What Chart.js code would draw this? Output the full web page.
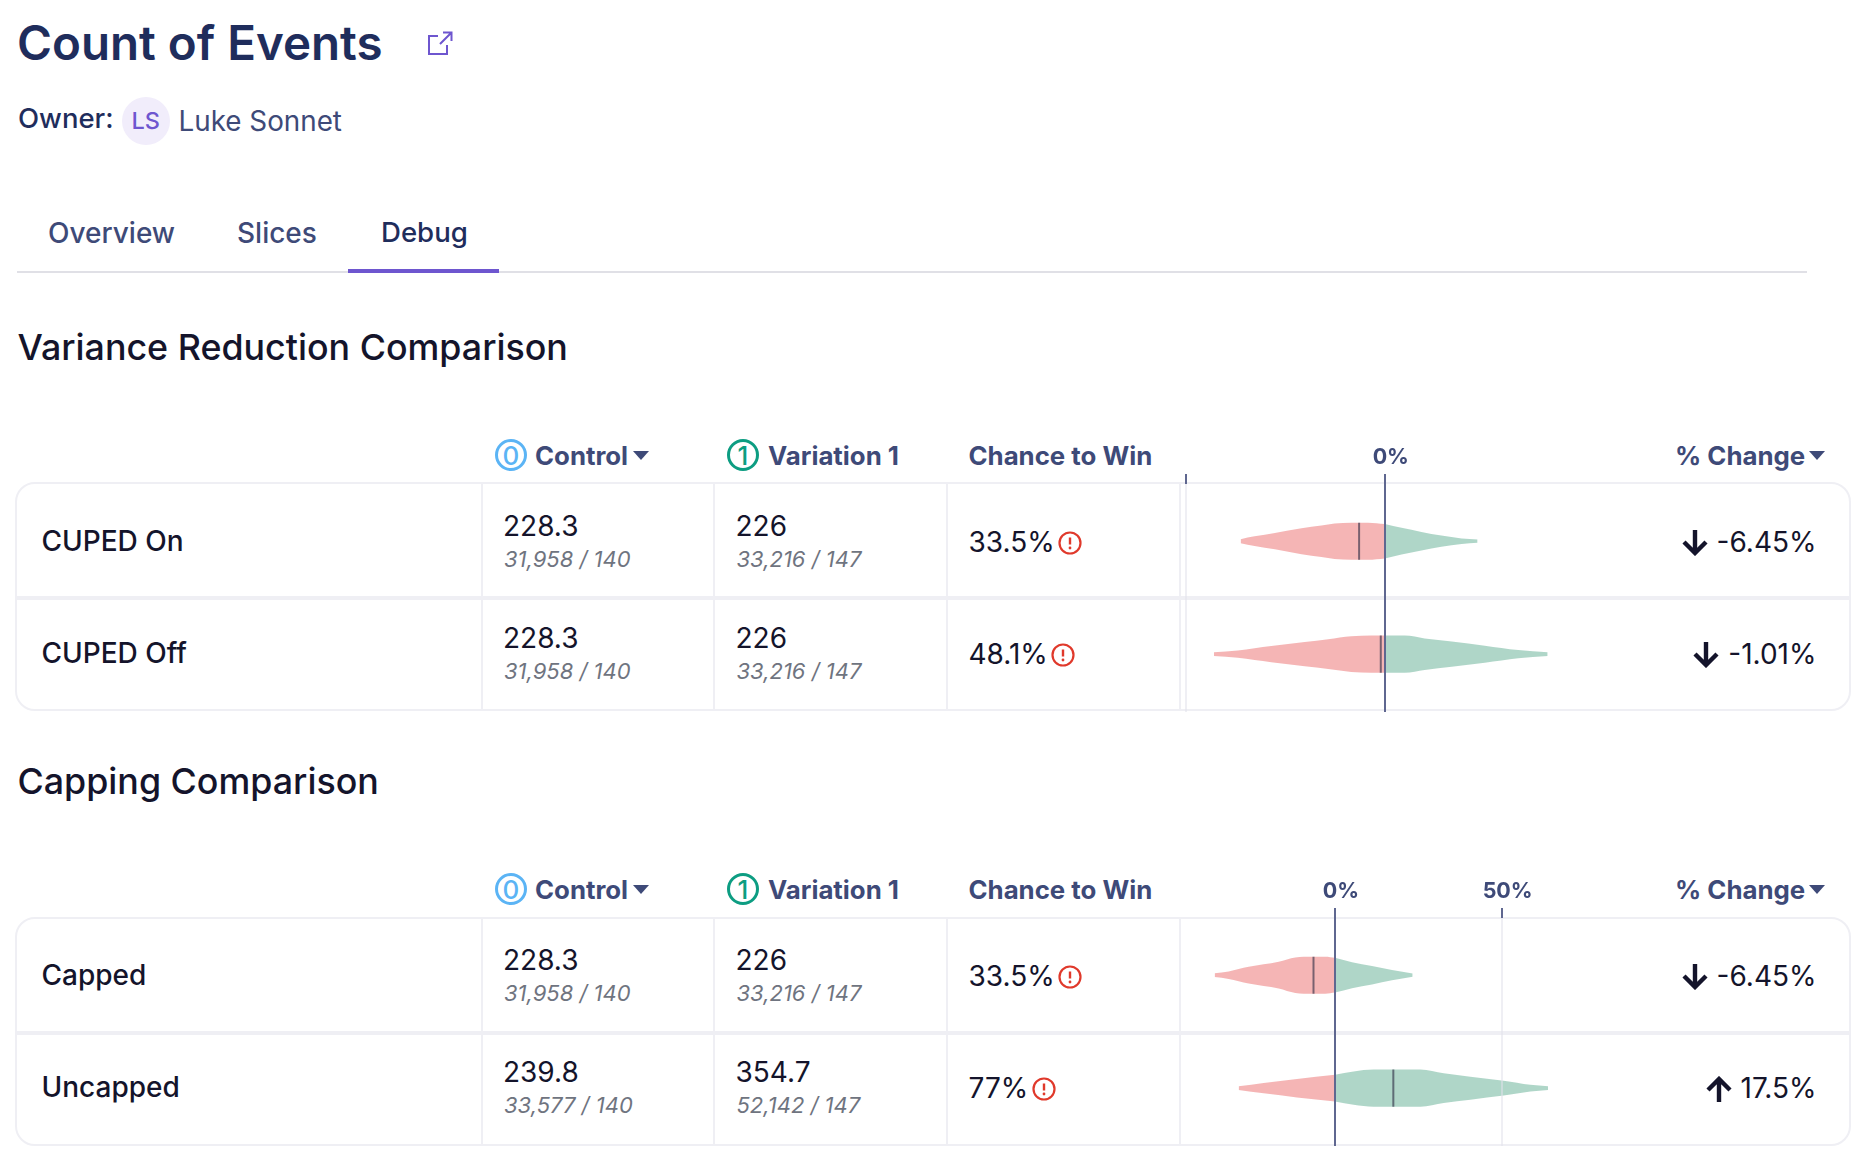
<!DOCTYPE html>
<html><head><meta charset="utf-8">
<script src="https://cdn.jsdelivr.net/npm/chart.js@4"></script>
<style>
html,body{margin:0;padding:0;background:#fff;width:1866px;height:1160px;overflow:hidden;font-family:Inter,sans-serif;-webkit-font-smoothing:antialiased}
.a{position:absolute;white-space:nowrap;line-height:1;transform:translateY(-50%)}
.box{position:absolute;box-sizing:border-box}
.badge{position:absolute;box-sizing:border-box;width:32px;height:32px;border-radius:50%;border:3px solid;display:flex;align-items:center;justify-content:center;font-size:26px;font-weight:500}
canvas{position:absolute;z-index:5}
.caret{position:absolute;width:0;height:0;border-left:8px solid transparent;border-right:8px solid transparent;border-top:9px solid #3e4a78}
</style></head><body>
<script>
// ---------- table data ----------
const sectionTitles = ["Variance Reduction Comparison", "Capping Comparison"];
const rowLabels = [["CUPED On", "CUPED Off"], ["Capped", "Uncapped"]];
const controlValues = [["228.3", "228.3"], ["228.3", "239.8"]];
const controlCounts = [["31,958 / 140", "31,958 / 140"], ["31,958 / 140", "33,577 / 140"]];
const variationValues = [["226", "226"], ["226", "354.7"]];
const variationCounts = [["33,216 / 147", "33,216 / 147"], ["33,216 / 147", "52,142 / 147"]];
const chanceToWin = [["33.5%", "48.1%"], ["33.5%", "77%"]];
const percentChange = [[-6.45, -1.01], [-6.45, 17.5]];
const changeLabels = [["-6.45%", "-1.01%"], ["-6.45%", "17.5%"]];
// ---------- axis ticks ----------
const axisTicks = [[-50, 0], [0, 50]];
const axisLabelled = [[0], [0, 50]];
const axisRange = [[-51.43, 44], [-46.5, 67.5]];
// ---------- violin outlines: % change and relative density ----------
const cupedOnPct  = [-36.2,-32.7,-27.6,-20.9,-15.9,-12.6,-8.4,-4.2,0,4.2,9.2,14.2,19.3,23.3];
const cupedOnDens = [.11,.26,.44,.70,.85,.96,1,1,.93,.72,.50,.30,.15,.09];
const cupedOffPct  = [-42.9,-36.9,-28.5,-20.1,-14.2,-8.4,-3.4,0,5,10,16.8,25.1,33.5,40.9];
const cupedOffDens = [.10,.20,.44,.65,.80,.96,1,1,1,.85,.68,.46,.22,.10];
const cappedPct  = [-36.1,-31.9,-25.9,-16.9,-11.9,-6.9,-2.9,0,5.1,11.1,17.1,23.3];
const cappedDens = [.10,.20,.45,.72,.96,1,1,.94,.70,.50,.28,.09];
const uncappedPct  = [-28.9,-21.4,-11.4,0,5.6,11.6,18.6,25.6,32.6,40.6,50.6,58.6,63.9];
const uncappedDens = [.10,.28,.50,.72,.90,1,1,1,.80,.62,.40,.18,.10];
const violins = [[[cupedOnPct,cupedOnDens],[cupedOffPct,cupedOffDens]],[[cappedPct,cappedDens],[uncappedPct,uncappedDens]]];

const NAVY="#1f2d5c", SLATE="#3e4a78", INK="#14142b", PURPLE="#6e56cf", LINE="#efeff4";
const RED="rgba(235,107,107,.5)", GREEN="rgba(95,173,145,.5)";
const body=document.body;
function text(x,cy,s,css){const d=document.createElement('div');d.className='a';d.textContent=s;d.style.cssText=`left:${x}px;top:${cy}px;`+(css||'');body.appendChild(d);return d;}
function box(x,y,w,h,css){const d=document.createElement('div');d.className='box';d.style.cssText=`left:${x}px;top:${y}px;width:${w}px;height:${h}px;`+(css||'');body.appendChild(d);return d;}
function svg(x,y,w,h,inner){const d=document.createElement('div');d.style.cssText=`position:absolute;left:${x}px;top:${y}px;width:${w}px;height:${h}px`;d.innerHTML=`<svg width="${w}" height="${h}" viewBox="0 0 ${w} ${h}" fill="none">${inner}</svg>`;body.appendChild(d);}
function caret(x,y){const d=document.createElement('div');d.className='caret';d.style.left=x+'px';d.style.top=y+'px';body.appendChild(d);}

// page header
text(17,43,"Count of Events",`font-size:47.5px;font-weight:600;color:${NAVY}`);
svg(427,31,26,25,`<path d="M11 5H2v18h18v-9M13 13L24 2M16 1.5h8.5V10" stroke="${PURPLE}" stroke-width="2"/>`);
text(18,119,"Owner:",`font-size:27.5px;font-weight:500;color:${NAVY}`);
box(122,97,48,48,'border-radius:50%;background:#f1edfb');
text(131.5,121,"LS",`font-size:23.5px;font-weight:500;color:${PURPLE}`);
text(178.5,122,"Luke Sonnet",`font-size:27.8px;font-weight:400;color:${SLATE}`);
text(48,233,"Overview",`font-size:28px;font-weight:500;color:${SLATE}`);
text(237,233,"Slices",`font-size:28px;font-weight:500;color:${SLATE}`);
text(381,233,"Debug",`font-size:27.6px;font-weight:500;color:${NAVY}`);
box(17,271,1790,2,'background:#e0e0e6');
box(348,269,151,4,`background:${PURPLE}`);

// tables
const charts=[];
[0,1].forEach(t=>{
  const dy=t*435, ty=t*434;
  const canvasTop=440+ty;
  text(17.5,348+ty,sectionTitles[t],`font-size:35.8px;font-weight:500;color:${INK}`);
  // column headers
  const b0=document.createElement('div');b0.className='badge';b0.textContent='0';b0.style.cssText=`left:495px;top:${439+ty}px;color:#5bb4f5;border-color:#5bb4f5`;body.appendChild(b0);
  text(535,456+ty,"Control",`font-size:25.8px;font-weight:700;color:${SLATE}`);
  caret(633,451+ty);
  const b1=document.createElement('div');b1.className='badge';b1.textContent='1';b1.style.cssText=`left:727px;top:${439+ty}px;color:#0d9d82;border-color:#0d9d82`;body.appendChild(b1);
  text(768,456+ty,"Variation 1",`font-size:25.8px;font-weight:700;color:${SLATE}`);
  text(968.5,456+ty,"Chance to Win",`font-size:25.8px;font-weight:700;color:${SLATE}`);
  text(1675,456+ty,"% Change",`font-size:25.8px;font-weight:700;color:${SLATE}`);
  caret(1809,451+ty);
  // card
  box(14.5,482+dy,1836,229,`border:2px solid ${LINE};border-radius:20px`);
  box(16,595.5+dy,1834,4,`background:${LINE}`);
  [481,712.5,945.5,1179].forEach(x=>box(x,483+dy,2,227,`background:${LINE}`));
  // rows
  [0,1].forEach(r=>{
    const y=ty+r*112;
    text(41.5,541+y,rowLabels[t][r],`font-size:28px;font-weight:500;color:${INK}`);
    text(503,525.7+y,controlValues[t][r],`font-size:28px;color:${INK}`);
    text(504,559+y,controlCounts[t][r],`font-size:22px;font-style:italic;color:#6f7480`);
    text(735.5,525.7+y,variationValues[t][r],`font-size:28px;color:${INK}`);
    text(736.5,559+y,variationCounts[t][r],`font-size:22px;font-style:italic;color:#6f7480`);
    const c=text(968.5,541.5+y,chanceToWin[t][r],`font-size:28px;color:${INK}`);
    const ix=c.getBoundingClientRect().right+3.5;
    svg(ix,531+y,24,24,`<circle cx="12" cy="12" r="10.5" stroke="#e0392b" stroke-width="2.2"/><path d="M12 6.5v7" stroke="#e0392b" stroke-width="2.4"/><circle cx="12" cy="17" r="1.4" fill="#e0392b"/>`);
    const ch=text(0,541.5+y,changeLabels[t][r],`font-size:28px;color:${INK}`);
    const w=ch.getBoundingClientRect().width;
    const tx=1816.5-w; ch.style.left=tx+'px';
    const up=percentChange[t][r]>0;
    svg(tx-35,530+y,26,26, up
      ? `<path d="M13 26V3M2 14L13 3l11 11" stroke="${INK}" stroke-width="4.4"/>`
      : `<path d="M13 0v23M2 12l11 11 11-11" stroke="${INK}" stroke-width="4.4"/>`);
  });
  // violin chart
  const cv=document.createElement('canvas');cv.width=380;cv.height=272;
  cv.style.cssText=`left:1180px;top:${canvasTop}px;width:380px;height:272px`;
  body.appendChild(cv);
  const BAND=.164;
  const ds=[];
  percentChange[t].forEach((m,r)=>{
    ds.push({label:rowLabels[t][r]+' mean',data:[{x:m,y:r+.5-BAND},{x:m,y:r+.5+BAND}],borderColor:'rgba(45,45,70,.62)',borderWidth:2,pointRadius:0,fill:false,tension:0});
  });
  violins[t].forEach((v,r)=>{
    const [pct,dens]=v;
    const neg=pct.map((p,i)=>[p,dens[i]]).filter(a=>a[0]<=0);
    const pos=pct.map((p,i)=>[p,dens[i]]).filter(a=>a[0]>=0);
    [[neg,RED,'loss'],[pos,GREEN,'gain']].forEach(([pts,col,nm])=>{
      ds.push({label:rowLabels[t][r]+' '+nm+' upper',data:pts.map(a=>({x:a[0],y:r+.5-BAND*a[1]})),backgroundColor:col,borderWidth:0,pointRadius:0,fill:'+1',cubicInterpolationMode:'monotone'});
      ds.push({label:rowLabels[t][r]+' '+nm+' lower',data:pts.map(a=>({x:a[0],y:r+.5+BAND*a[1]})),backgroundColor:col,borderWidth:0,pointRadius:0,fill:false,cubicInterpolationMode:'monotone'});
    });
  });
  charts.push(new Chart(cv,{type:'line',data:{datasets:ds},options:{
    responsive:false,animation:false,devicePixelRatio:1,
    layout:{padding:0},
    plugins:{legend:{display:false},tooltip:{enabled:false}},
    scales:{
      x:{type:'linear',position:'top',min:axisRange[t][0],max:axisRange[t][1],
        afterBuildTicks:s=>{s.ticks=axisTicks[t].map(v=>({value:v}));},
        afterFit:s=>{s.height=44;},
        border:{display:false},
        grid:{z:1,drawTicks:true,tickLength:10,tickWidth:2,lineWidth:2,
          color:c=>c.tick&&c.tick.value===0?'#5f6790':'rgba(225,225,235,.55)',
          tickColor:'#5f6790'},
        ticks:{autoSkip:false,maxRotation:0,padding:4,labelOffset:6,color:SLATE,font:{family:'Inter',size:21.5,weight:'700'},
          callback:v=>axisLabelled[t].includes(v)?v+'%':''}},
      y:{type:'linear',display:false,reverse:true,min:-.006,max:2.012}
    }}}));
});
</script>
</body></html>
